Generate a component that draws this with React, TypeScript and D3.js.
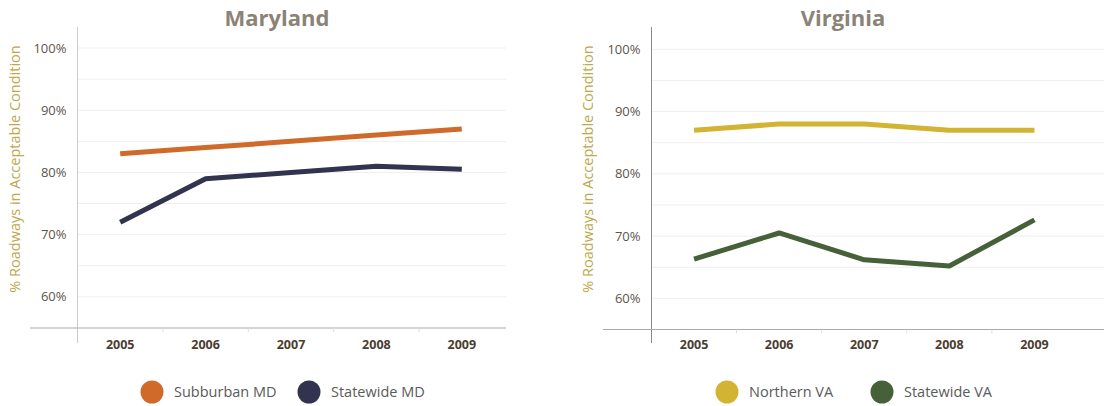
import React from "react";
import * as d3 from "d3";

// Survey years shared by both state panels
const years = ["2005", "2006", "2007", "2008", "2009"];

// Maryland series (% of roadways in acceptable condition)
const suburbanMD = [83, 84, 85, 86, 87];
const statewideMD = [72, 79, 80, 81, 80.5];

// Virginia series
const northernVA = [87, 88, 88, 87, 87];
const statewideVA = [66.3, 70.5, 66.2, 65.2, 72.6];

// Y-axis tick labels (percent)
const yTicks = [60, 70, 80, 90, 100];
const gridTicks = [60, 65, 70, 75, 80, 85, 90, 95, 100];

const yTitle = "% Roadways in Acceptable Condition";

type Series = { name: string; values: number[]; color: string };

type PanelProps = {
  title: string;
  series: Series[];
  axisX: number;
  plotRight: number;
  gridRight: number;
  axisLeft: number;
  yBottom: number;
  yTop: number;
  titleX: number;
  yTitleX: number;
  axisColor: string;
  legendX: number[];
};

const FONT = "'Open Sans', 'DejaVu Sans', sans-serif";

function Panel(p: PanelProps) {
  const x = d3.scaleBand<string>().domain(years).range([p.axisX, p.plotRight]).padding(0);
  const y = d3.scaleLinear().domain([55, 100]).range([p.yBottom, p.yTop]);
  const line = d3
    .line<number>()
    .x((_, i) => (x(years[i]) as number) + x.bandwidth() / 2)
    .y((d) => y(d));
  const boundaries = years.slice(1).map((yr) => x(yr) as number);

  return (
    <g>
      <text
        x={p.titleX}
        y={26}
        textAnchor="middle"
        fontFamily={FONT}
        fontWeight={700}
        fontSize={22}
        fill="#8b8377"
      >
        {p.title}
      </text>

      {gridTicks.map((t) => (
        <line
          key={t}
          x1={p.axisX}
          x2={p.gridRight}
          y1={y(t)}
          y2={y(t)}
          stroke="#efefef"
          strokeWidth={1}
        />
      ))}

      {/* vertical axis */}
      <line x1={p.axisX} x2={p.axisX} y1={27} y2={343} stroke={p.axisColor} strokeWidth={1} />
      {/* horizontal axis */}
      <line x1={p.axisLeft} x2={p.gridRight} y1={y(55)} y2={y(55)} stroke="#a9a9a9" strokeWidth={1.2} />
      {boundaries.map((b, i) => (
        <line key={i} x1={b} x2={b} y1={y(55)} y2={y(55) + 4} stroke="#dddddd" strokeWidth={1} />
      ))}

      {yTicks.map((t) => (
        <text
          key={t}
          x={p.axisX - 11}
          y={y(t)}
          dy="0.35em"
          textAnchor="end"
          fontFamily={FONT}
          fontSize={13}
          fill="#5e544b"
        >
          {t}%
        </text>
      ))}

      {years.map((yr) => (
        <text
          key={yr}
          x={(x(yr) as number) + x.bandwidth() / 2}
          y={348.5}
          textAnchor="middle"
          fontFamily={FONT}
          fontWeight={700}
          fontSize={12.5}
          fill="#4b3d31"
        >
          {yr}
        </text>
      ))}

      <text
        transform={`translate(${p.yTitleX},${169}) rotate(-90)`}
        textAnchor="middle"
        dy="0.35em"
        fontFamily={FONT}
        fontSize={14.5}
        fill="#bda84c"
      >
        {yTitle}
      </text>

      {p.series.map((s) => (
        <path
          key={s.name}
          d={line(s.values) as string}
          fill="none"
          stroke={s.color}
          strokeWidth={5}
          strokeLinejoin="round"
        />
      ))}

      {p.series.map((s, i) => (
        <g key={s.name} transform={`translate(${p.legendX[i]},392)`}>
          <circle r={11.5} fill={s.color} />
          <text x={22} dy="0.35em" fontFamily={FONT} fontSize={14.5} fill="#5a5a5a">
            {s.name}
          </text>
        </g>
      ))}
    </g>
  );
}

export default function App() {
  return (
    <svg
      width={1104}
      height={406}
      style={{ position: "absolute", left: 0, top: 0, background: "#ffffff" }}
    >
      <Panel
        title="Maryland"
        series={[
          { name: "Subburban MD", values: suburbanMD, color: "#cf6a2b" },
          { name: "Statewide MD", values: statewideMD, color: "#32334f" },
        ]}
        axisX={77.5}
        plotRight={504.5}
        gridRight={506}
        axisLeft={30}
        yBottom={328}
        yTop={48}
        titleX={277}
        yTitleX={15}
        axisColor="#cccccc"
        legendX={[152, 309]}
      />
      <Panel
        title="Virginia"
        series={[
          { name: "Northern VA", values: northernVA, color: "#d2b432" },
          { name: "Statewide VA", values: statewideVA, color: "#46603a" },
        ]}
        axisX={651.5}
        plotRight={1077}
        gridRight={1104}
        axisLeft={603}
        yBottom={329.5}
        yTop={49.3}
        titleX={843}
        yTitleX={588}
        axisColor="#8a8a8a"
        legendX={[727, 882]}
      />
    </svg>
  );
}
